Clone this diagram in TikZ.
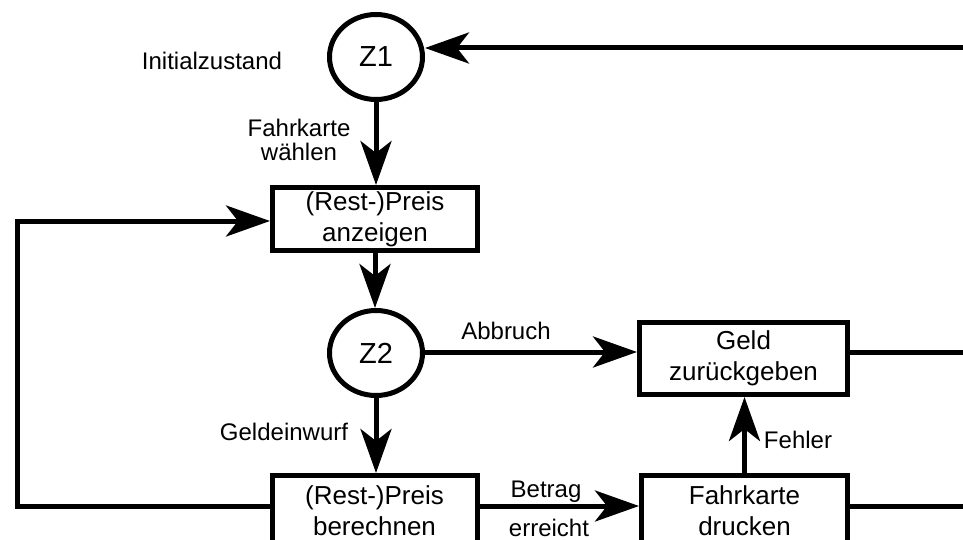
\documentclass[tikz,border=0pt]{standalone}
\usepackage{fontspec}
\setmainfont{Liberation Sans}
\usetikzlibrary{arrows.meta,shapes.geometric}
\begin{document}
\begin{tikzpicture}[x=1pt,y=-1pt,
  every node/.style={inner sep=0pt},
  state/.style={draw,ellipse,line width=5pt,minimum width=93pt,minimum height=85pt,font=\fontsize{29}{34}\selectfont},
  stepbox/.style={draw,rectangle,line width=5pt,minimum width=205pt,minimum height=63pt,align=center,font=\fontsize{26}{31}\selectfont,fill=white},
  lbl/.style={font=\fontsize{24}{24}\selectfont,align=center},
  conn/.style={line width=5pt},
  arr/.style={conn,-{Stealth[length=44pt,width=31pt,inset=12pt]}}
]
\useasboundingbox[fill=white] (0,0) rectangle (963,540);
% nodes
\node[state] (Z1) at (376,57) {Z1};
\node[stepbox] (B1) at (375,219) {(Rest-)Preis\\anzeigen};
\node[state] (Z2) at (376,353) {Z2};
\node[stepbox,minimum width=208pt,minimum height=72pt] (G) at (743.5,358.5) {Geld\\zurückgeben};
\node[stepbox,minimum height=71pt,anchor=north] (B2) at (374.5,473) {(Rest-)Preis\\berechnen};
\node[stepbox,minimum width=206pt,minimum height=71pt,anchor=north] (F) at (744.5,473) {Fahrkarte\\drucken};
% free ends
\coordinate (r1) at (963,48);
\coordinate (r2) at (963,352);
\coordinate (r3) at (963,506);
\coordinate (l1) at (17,506);
\coordinate (l2) at (17,221);
% connectors
\draw[arr] (r1) -- (r1 -| Z1.east);
\draw[arr] (Z1.south) -- (Z1.south |- B1.north);
\draw[arr] (B1.south) -- (B1.south |- Z2.north);
\draw[arr] (B2.west |- l1) -- (l1) -- (l2) -- (l2 -| B1.west);
\draw[arr] (Z2.east |- r2) -- (r2 -| G.west);
\draw[arr] (Z2.south) -- (Z2.south |- B2.north);
\draw[arr] (B2.east |- r3) -- (r3 -| F.west);
\draw[arr] (F.north) -- (F.north |- G.south);
\draw[conn] (G.east |- r2) -- (r2);
\draw[conn] (F.east |- r3) -- (r3);
% labels
\node[lbl] (li) at (212,61) {Initialzustand};
\node[lbl] (lf) at (299,140) {Fahrkarte\\wählen};
\node[lbl] (la) at (506,331) {Abbruch};
\node[lbl] (lg) at (284,432) {Geldeinwurf};
\node[lbl] (lb) at (546,492) {Betrag};
\node[lbl] (le) at (549,528) {erreicht};
\node[lbl] (lfe) at (798,440) {Fehler};
\end{tikzpicture}
\end{document}
